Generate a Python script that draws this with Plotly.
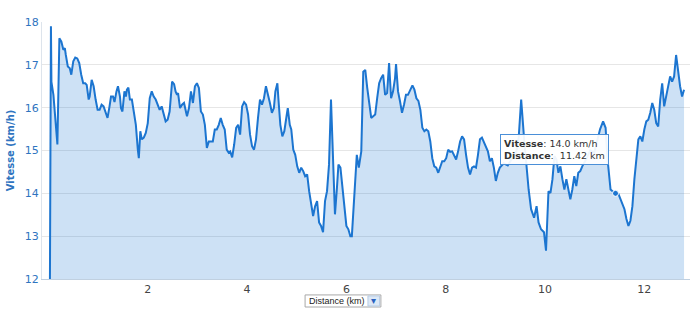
import plotly.graph_objects as go

distance_km = [
    0.03, 0.05, 0.06, 0.10, 0.14, 0.18, 0.22, 0.26, 0.30, 0.33, 0.35, 0.39, 0.43, 0.46, 0.50,
    0.54, 0.58, 0.62, 0.66, 0.70, 0.74, 0.77, 0.81, 0.83, 0.87, 0.91, 0.95, 0.99, 1.03, 1.07,
    1.11, 1.15, 1.19, 1.23, 1.26, 1.30, 1.33, 1.37, 1.40, 1.44, 1.46, 1.49, 1.53, 1.56, 1.58,
    1.61, 1.64, 1.68, 1.72, 1.76, 1.80, 1.82, 1.85, 1.88, 1.92, 1.96, 2.00, 2.04, 2.08, 2.12,
    2.16, 2.20, 2.24, 2.28, 2.32, 2.36, 2.40, 2.44, 2.49, 2.53, 2.56, 2.59, 2.61, 2.65, 2.69,
    2.73, 2.79, 2.83, 2.87, 2.91, 2.95, 2.99, 3.03, 3.07, 3.11, 3.15, 3.19, 3.23, 3.27, 3.31,
    3.35, 3.39, 3.43, 3.47, 3.51, 3.55, 3.59, 3.63, 3.66, 3.70, 3.74, 3.78, 3.82, 3.86, 3.90,
    3.94, 3.98, 4.02, 4.06, 4.10, 4.14, 4.18, 4.22, 4.26, 4.30, 4.34, 4.38, 4.42, 4.46, 4.50,
    4.54, 4.57, 4.61, 4.63, 4.67, 4.71, 4.75, 4.80, 4.82, 4.86, 4.89, 4.93, 4.97, 5.01, 5.05,
    5.09, 5.13, 5.17, 5.21, 5.25, 5.29, 5.33, 5.37, 5.41, 5.45, 5.49, 5.53, 5.57, 5.61, 5.65,
    5.69, 5.73, 5.77, 5.81, 5.84, 5.88, 5.92, 5.96, 6.00, 6.04, 6.08, 6.11, 6.15, 6.19, 6.21,
    6.25, 6.30, 6.34, 6.38, 6.42, 6.46, 6.50, 6.54, 6.58, 6.62, 6.66, 6.70, 6.74, 6.78, 6.82,
    6.86, 6.90, 6.94, 6.98, 7.00, 7.04, 7.08, 7.12, 7.16, 7.20, 7.24, 7.29, 7.33, 7.37, 7.41,
    7.45, 7.49, 7.53, 7.57, 7.61, 7.65, 7.69, 7.73, 7.77, 7.81, 7.85, 7.89, 7.93, 7.97, 8.01,
    8.05, 8.09, 8.13, 8.17, 8.21, 8.25, 8.29, 8.33, 8.37, 8.41, 8.45, 8.49, 8.53, 8.57, 8.61,
    8.65, 8.69, 8.73, 8.77, 8.81, 8.85, 8.89, 8.93, 8.97, 9.01, 9.05, 9.09, 9.17, 9.25, 9.33,
    9.41, 9.47, 9.52, 9.58, 9.63, 9.67, 9.72, 9.78, 9.83, 9.87, 9.92, 9.98, 10.02, 10.07, 10.11,
    10.15, 10.19, 10.23, 10.27, 10.31, 10.35, 10.39, 10.43, 10.47, 10.51, 10.55, 10.59, 10.63, 10.67, 10.71,
    10.75, 10.83, 10.91, 10.99, 11.07, 11.11, 11.17, 11.22, 11.26, 11.32, 11.36, 11.40, 11.42, 11.48, 11.52,
    11.56, 11.60, 11.64, 11.68, 11.72, 11.76, 11.80, 11.84, 11.88, 11.92, 11.96, 12.00, 12.04, 12.08, 12.12,
    12.16, 12.20, 12.24, 12.28, 12.32, 12.36, 12.40, 12.44, 12.48, 12.52, 12.56, 12.60, 12.64, 12.68, 12.72,
    12.76, 12.80,
]

vitesse_kmh = [
    12.0, 17.9, 16.6, 16.3, 15.68, 15.14, 17.62, 17.54, 17.35, 17.39, 17.23, 16.96, 16.92, 16.77, 17.08,
    17.17, 17.15, 17.04, 16.77, 16.57, 16.57, 16.53, 16.19, 16.26, 16.65, 16.5, 16.19, 15.95, 15.95, 16.07,
    16.03, 15.88, 15.76, 16.03, 16.26, 16.26, 16.13, 16.38, 16.5, 16.26, 15.99, 15.91, 16.38, 16.26, 16.42,
    16.47, 16.19, 16.19, 15.91, 15.6, 15.02, 14.82, 15.45, 15.26, 15.3, 15.41, 15.64, 16.22, 16.38, 16.26,
    16.19, 16.07, 15.95, 16.03, 15.84, 15.68, 15.72, 15.91, 16.61, 16.55, 16.38, 16.3, 16.34, 15.99, 16.07,
    16.11, 15.8, 15.99, 16.38, 16.11, 16.5, 16.57, 16.46, 15.91, 15.84, 15.6, 15.06, 15.21, 15.21, 15.21,
    15.49, 15.49, 15.6, 15.76, 15.6, 15.49, 15.02, 14.95, 14.98, 14.84, 15.14, 15.53, 15.6, 15.37, 16.03,
    16.13, 16.07, 15.84, 15.37, 15.1, 15.02, 15.26, 15.76, 16.19, 16.07, 16.22, 16.5, 16.26, 16.11, 15.88,
    15.99, 16.38, 16.57, 16.22, 15.6, 15.33, 15.45, 15.84, 15.99, 15.6, 15.49, 15.02, 14.9, 14.63, 14.48,
    14.6, 14.52, 14.4, 14.44, 14.05, 13.74, 13.47, 13.7, 13.82, 13.32, 13.24, 13.09, 13.82, 14.05, 14.67,
    16.19, 14.9, 13.51, 14.13, 14.67, 14.6, 14.13, 13.59, 13.24, 13.16, 13.0, 13.0, 13.82, 14.52, 14.9,
    14.6, 14.98, 16.84, 16.88, 16.46, 16.07, 15.76, 15.8, 15.84, 16.22, 16.57, 16.69, 16.77, 16.3, 16.34,
    17.04, 16.22, 16.38, 16.69, 17.02, 16.38, 16.15, 15.88, 16.07, 16.3, 16.3, 16.42, 16.52, 16.42, 16.22,
    16.16, 15.95, 15.53, 15.45, 15.49, 15.45, 15.21, 14.82, 14.63, 14.6, 14.48, 14.6, 14.75, 14.75, 14.82,
    15.02, 14.97, 14.98, 14.9, 14.79, 14.98, 15.21, 15.33, 15.26, 14.9, 14.6, 14.44, 14.6, 14.63, 14.6,
    14.9, 15.26, 15.3, 15.18, 15.1, 14.98, 14.75, 14.82, 14.6, 14.29, 14.48, 14.6, 14.7, 14.65, 14.8,
    14.9, 15.3, 16.19, 15.26, 14.56, 14.09, 13.63, 13.43, 13.7, 13.32, 13.16, 13.09, 12.66, 14.05, 14.01,
    14.33, 14.87, 14.79, 14.48, 14.63, 14.33, 14.09, 14.33, 14.09, 13.86, 14.09, 14.4, 14.17, 14.48, 14.52,
    14.63, 14.8, 15.0, 14.95, 15.3, 15.5, 15.68, 15.53, 14.79, 14.09, 14.05, 14.01, 14.0, 13.98, 13.86,
    13.78, 13.63, 13.4, 13.24, 13.36, 13.7, 14.33, 14.87, 15.26, 15.33, 15.21, 15.49, 15.68, 15.72, 15.88,
    16.11, 15.95, 15.64, 15.56, 16.19, 16.57, 16.03, 16.26, 16.53, 16.73, 16.61, 16.73, 17.23, 16.8, 16.5,
    16.26, 16.42,
]

x_ticks = [2, 4, 6, 8, 10, 12]
y_ticks = [12, 13, 14, 15, 16, 17, 18]
hover_km = 11.42

LINE = "#1c75d0"
AXIS_BLUE = "#2f74c0"

hi = distance_km.index(hover_km)

fig = go.Figure()
fig.add_trace(go.Scatter(
    x=distance_km, y=vitesse_kmh, mode="lines",
    line=dict(color=LINE, width=2),
    fill="tozeroy", fillcolor="rgba(28,117,208,0.22)",
    hoverinfo="skip", showlegend=False,
))
fig.add_trace(go.Scatter(
    x=[distance_km[hi]], y=[vitesse_kmh[hi]], mode="markers",
    marker=dict(color=LINE, size=6, line=dict(color="white", width=1)),
    hoverinfo="skip", showlegend=False,
))

fig.add_annotation(
    x=distance_km[hi], y=vitesse_kmh[hi], xref="x", yref="y",
    text=f"<b>Vitesse</b>: {vitesse_kmh[hi]:.1f} km/h<br><b>Distance</b>:  {distance_km[hi]:.2f} km",
    showarrow=True, arrowcolor="rgba(0,0,0,0)", ax=-61, ay=-44,
    align="left", bgcolor="rgba(255,255,255,0.93)", bordercolor="#4a8fd8",
    borderwidth=1, borderpad=3,
    font=dict(family="DejaVu Sans", size=9.5, color="#333333"),
)

# x-axis title styled as a dropdown select box
fig.add_shape(type="rect", xref="paper", yref="paper",
              x0=0.406, x1=0.523, y0=-0.109, y1=-0.062,
              line=dict(color="#a8a8a8", width=1), fillcolor="white")
fig.add_shape(type="rect", xref="paper", yref="paper",
              x0=0.503, x1=0.521, y0=-0.105, y1=-0.066,
              line=dict(color="#b8cce4", width=1), fillcolor="#dce8f6")
fig.add_annotation(xref="paper", yref="paper", x=0.409, y=-0.0855,
                   xanchor="left", yanchor="middle", showarrow=False,
                   text="Distance (km)",
                   font=dict(family="Liberation Sans", size=9, color="#222222"))
fig.add_annotation(xref="paper", yref="paper", x=0.512, y=-0.0855,
                   xanchor="center", yanchor="middle", showarrow=False,
                   text="▾", font=dict(family="DejaVu Sans", size=10, color="#2a62c0"))

fig.update_layout(
    width=700, height=315,
    margin=dict(l=40, r=10, t=22, b=36),
    paper_bgcolor="white", plot_bgcolor="white",
    xaxis=dict(
        range=[-0.13, 12.92], tickvals=x_ticks, ticktext=[str(t) for t in x_ticks],
        showgrid=False, zeroline=False, showline=True, linecolor="#c0d0e0",
        ticks="", tickfont=dict(family="DejaVu Sans", size=11, color="#444444"),
    ),
    yaxis=dict(
        range=[12, 18], tickvals=y_ticks, ticktext=[str(t) for t in y_ticks],
        showgrid=True, gridcolor="#e6e6e6", zeroline=False,
        showline=True, linecolor="#dde4ec", ticks="",
        tickfont=dict(family="DejaVu Sans", size=11, color=AXIS_BLUE),
        title=dict(text="<b>Vitesse (km/h)</b>", standoff=8,
                   font=dict(family="DejaVu Sans", size=10, color=AXIS_BLUE)),
    ),
)

fig.write_html("out.html")
